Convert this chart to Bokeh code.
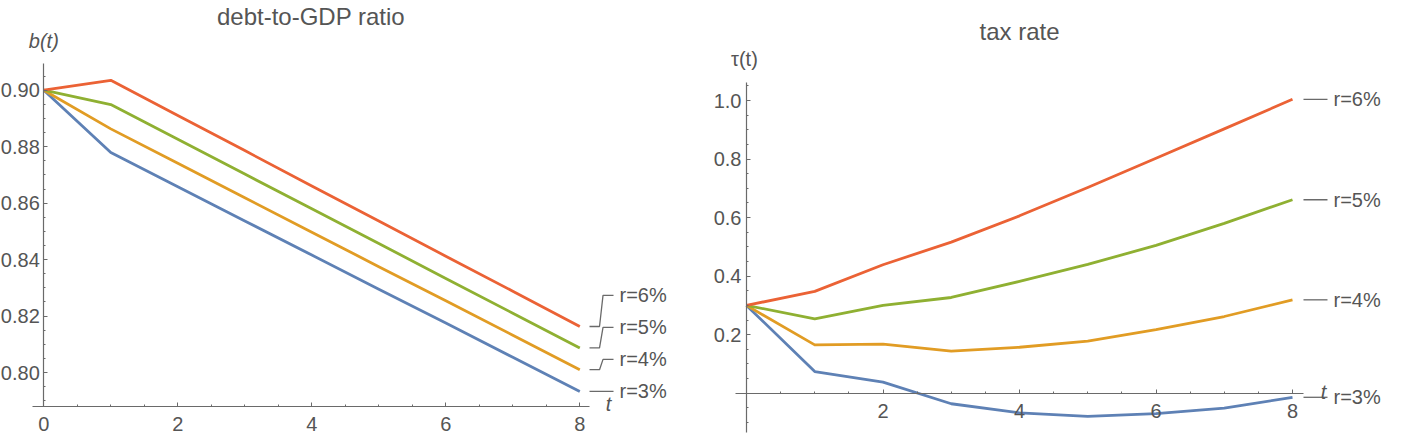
from bokeh.plotting import figure
from bokeh.layouts import row
from bokeh.models import LinearAxis, Range1d, FixedTicker, Label, PrintfTickFormatter
from bokeh.core.properties import value
from bokeh.embed import file_html
from bokeh.resources import INLINE

# ---------------- data ----------------
t = [0, 1, 2, 3, 4, 5, 6, 7, 8]
rate_labels = ["r=3%", "r=4%", "r=5%", "r=6%"]

debt_r3 = [0.900, 0.8779, 0.8658, 0.8537, 0.8416, 0.8295, 0.8175, 0.8054, 0.7933]
debt_r4 = [0.900, 0.8863, 0.8741, 0.8619, 0.8497, 0.8375, 0.8254, 0.8132, 0.8010]
debt_r5 = [0.900, 0.8949, 0.8826, 0.8703, 0.8580, 0.8457, 0.8333, 0.8210, 0.8087]
debt_r6 = [0.900, 0.9035, 0.8910, 0.8786, 0.8661, 0.8537, 0.8412, 0.8288, 0.8163]

tax_r3 = [0.300, 0.074, 0.038, -0.036, -0.067, -0.079, -0.070, -0.051, -0.014]
tax_r4 = [0.300, 0.165, 0.168, 0.144, 0.157, 0.178, 0.217, 0.262, 0.319]
tax_r5 = [0.300, 0.254, 0.300, 0.327, 0.382, 0.440, 0.505, 0.580, 0.661]
tax_r6 = [0.300, 0.348, 0.439, 0.516, 0.606, 0.703, 0.803, 0.903, 1.004]

left_xticks = [0, 2, 4, 6, 8]
left_yticks = [0.80, 0.82, 0.84, 0.86, 0.88, 0.90]
right_xticks = [2, 4, 6, 8]
right_yticks = [0.2, 0.4, 0.6, 0.8, 1.0]

left_title = "debt-to-GDP ratio"
right_title = "tax rate"
left_ylabel = "b(t)"
right_ylabel = "τ(t)"
xlabel = "t"

# ---------------- styles ----------------
COLORS = ["#5E81B5", "#E19C24", "#8FB032", "#EB6235"]
FONT = "Liberation Sans"
AXIS_COLOR = "#6a6a6a"
TEXT_COLOR = "#555555"
H = 436


def minor_between(lo, hi, step):
    out = []
    v = lo
    while v <= hi + 1e-9:
        out.append(round(v, 6))
        v += step
    return out


def make_fig(width, xr, yr):
    p = figure(width=width, height=H, x_range=xr, y_range=yr,
               output_backend="svg", toolbar_location=None,
               x_axis_type=None, y_axis_type=None,
               min_border_left=0, min_border_right=0,
               min_border_top=0, min_border_bottom=0)
    p.outline_line_color = None
    p.background_fill_color = "white"
    p.border_fill_color = "white"
    return p


def style_axis(ax, standoff):
    ax.axis_line_color = AXIS_COLOR
    ax.axis_line_width = 1.2
    ax.major_tick_line_color = AXIS_COLOR
    ax.minor_tick_line_color = AXIS_COLOR
    ax.major_tick_in = 4
    ax.major_tick_out = 0
    ax.minor_tick_in = 2
    ax.minor_tick_out = 0
    ax.major_label_text_font = FONT
    ax.major_label_text_font_size = "20px"
    ax.major_label_text_color = TEXT_COLOR
    ax.major_label_standoff = standoff


# ================= left panel =================
LX_PX = 67.0          # pixels per unit t
LY_PX = 2823.0        # pixels per unit b
lx0 = 43.3            # pixel of t=0
ly90 = 89.7           # pixel of b=0.90 from top
W1 = 700
p1 = make_fig(W1,
              Range1d(-lx0 / LX_PX, (W1 - lx0) / LX_PX),
              Range1d(0.90 - (H - ly90) / LY_PX, 0.90 + ly90 / LY_PX))

lxb = (-0.169, 8.145)
lyb = (0.788, 0.9095)

xa1 = LinearAxis(fixed_location=lyb[0], bounds=lxb,
                 ticker=FixedTicker(ticks=left_xticks, minor_ticks=minor_between(0.5, 8, 0.5)),
                 formatter=PrintfTickFormatter(format="%d"))
style_axis(xa1, 11)
p1.add_layout(xa1, "below")
ya1 = LinearAxis(fixed_location=0, bounds=lyb,
                 ticker=FixedTicker(ticks=left_yticks, minor_ticks=minor_between(0.79, 0.905, 0.005)),
                 formatter=PrintfTickFormatter(format="%.2f"))
style_axis(ya1, 4)
p1.add_layout(ya1, "left")

debt_series = [debt_r3, debt_r4, debt_r5, debt_r6]
for ys, c in zip(debt_series, COLORS):
    p1.line(t, ys, line_color=c, line_width=2.8, line_join="round")

# callout labels (stacked at least 32px apart, as in the original)
gap = 32 / LY_PX
lab_y = []
for ys in debt_series:
    yv = ys[-1]
    if lab_y:
        yv = max(yv, lab_y[-1] + gap)
    lab_y.append(yv)
x_a = lxb[1]
x_b = x_a + 10 / LX_PX
x_c = x_a + 13.5 / LX_PX
x_d = x_a + 24 / LX_PX
x_txt = x_a + 30 / LX_PX
p1.multi_line([[x_a, x_b, x_c, x_d] for _ in debt_series],
              [[ys[-1], ys[-1], ly, ly] for ys, ly in zip(debt_series, lab_y)],
              line_color=AXIS_COLOR, line_width=1.3)
p1.text(x=[x_txt] * 4, y=lab_y, text=rate_labels,
        text_font=value(FONT), text_font_size=value("20px"),
        text_color=TEXT_COLOR, text_baseline="middle", text_align="left")

p1.add_layout(Label(x=(lxb[0] + lxb[1]) / 2, y=0.90 + (ly90 - 16) / LY_PX,
                    text=left_title, text_font=FONT, text_font_size="24px",
                    text_color=TEXT_COLOR, text_align="center", text_baseline="middle"))
p1.add_layout(Label(x=0, y=0.90 + (ly90 - 40) / LY_PX, text=left_ylabel,
                    text_font=FONT, text_font_size="20px", text_font_style="italic",
                    text_color=TEXT_COLOR, text_align="center", text_baseline="middle"))
p1.add_layout(Label(x=lxb[1] + 19 / LX_PX, y=lyb[0] + 2 / LY_PX, text=xlabel,
                    text_font=FONT, text_font_size="20px", text_font_style="italic",
                    text_color=TEXT_COLOR, text_align="center", text_baseline="middle"))

# ================= right panel =================
RX_PX = 68.25
RY_PX = 292.7
rx0 = 46.0
ry0 = 392.7
W2 = 704
p2 = make_fig(W2,
              Range1d(-rx0 / RX_PX, (W2 - rx0) / RX_PX),
              Range1d(-(H - ry0) / RY_PX, ry0 / RY_PX))

rxb = (-0.161, 8.161)
ryb = (-0.134, 1.0615)

xa2 = LinearAxis(fixed_location=0, bounds=rxb,
                 ticker=FixedTicker(ticks=right_xticks, minor_ticks=minor_between(0.5, 8, 0.5)),
                 formatter=PrintfTickFormatter(format="%d"))
style_axis(xa2, 11)
p2.add_layout(xa2, "below")
ya2 = LinearAxis(fixed_location=0, bounds=ryb,
                 ticker=FixedTicker(ticks=right_yticks, minor_ticks=minor_between(-0.1, 1.05, 0.05)),
                 formatter=PrintfTickFormatter(format="%.1f"))
style_axis(ya2, 5)
p2.add_layout(ya2, "left")

tax_series = [tax_r3, tax_r4, tax_r5, tax_r6]
for ys, c in zip(tax_series, COLORS):
    p2.line(t, ys, line_color=c, line_width=2.8, line_join="round")

rx_a = rxb[1]
rx_d = rx_a + 24 / RX_PX
rx_txt = rx_a + 30 / RX_PX
p2.multi_line([[rx_a, rx_d] for _ in tax_series],
              [[ys[-1], ys[-1]] for ys in tax_series],
              line_color=AXIS_COLOR, line_width=1.3)
p2.text(x=[rx_txt] * 4, y=[ys[-1] for ys in tax_series], text=rate_labels,
        text_font=value(FONT), text_font_size=value("20px"),
        text_color=TEXT_COLOR, text_baseline="middle", text_align="left")

p2.add_layout(Label(x=(rxb[0] + rxb[1]) / 2, y=(ry0 - 31) / RY_PX,
                    text=right_title, text_font=FONT, text_font_size="24px",
                    text_color=TEXT_COLOR, text_align="center", text_baseline="middle"))
p2.add_layout(Label(x=-0.03, y=(ry0 - 58) / RY_PX, text=right_ylabel,
                    text_font=FONT, text_font_size="20px",
                    text_color=TEXT_COLOR, text_align="center", text_baseline="middle"))
p2.add_layout(Label(x=rxb[1] + 20 / RX_PX, y=1 / RY_PX, text=xlabel,
                    text_font=FONT, text_font_size="20px", text_font_style="italic",
                    text_color=TEXT_COLOR, text_align="center", text_baseline="middle"))

layout = row(p1, p2)
open("out.html", "w").write(file_html(layout, INLINE))
